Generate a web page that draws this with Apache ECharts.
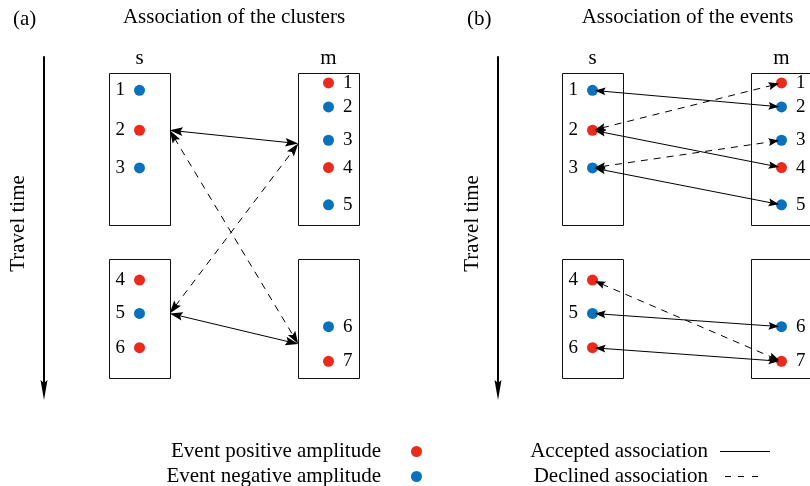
<!DOCTYPE html>
<html><head><meta charset="utf-8">
<script src="https://cdn.jsdelivr.net/npm/echarts@6/dist/echarts.min.js"></script>
<style>html,body{margin:0;padding:0;background:#fff}#c{width:810px;height:486px}</style>
</head><body><div id="c"></div>
<script>
// ---------- data ----------
const stationNames = ['s', 'm'];                       // station 0 = s, station 1 = m
const sEventTimes = [10, 22, 33.3, 67, 77, 87.3];       // travel time (0..100 scale)
const sEventPolarity = [-1, 1, -1, 1, -1, 1];           // +1 positive, -1 negative amplitude
const mEventTimes = [7.8, 15, 25, 33.2, 44.4, 81, 91.4];
const mEventPolarity = [1, -1, -1, 1, -1, -1, 1];
const clusterWindows = [[4.8, 50.5], [60.7, 96.5]];     // travel-time window of each cluster
const sClusterTimes = [22, 77];                         // representative time of each cluster
const mClusterTimes = [26, 86.2];
// [s cluster, m cluster] pairs
const clusterAccepted = [[0, 0], [1, 1]];
const clusterDeclined = [[0, 1], [1, 0]];
// [s event no., m event no.] pairs (1-based)
const eventAccepted = [[1, 2], [2, 4], [3, 5], [5, 6], [6, 7]];
const eventDeclined = [[2, 1], [3, 3], [4, 7]];
const panelTags = ['(a)', '(b)'];
const panelTitles = ['Association of the clusters', 'Association of the events'];
const legendEventNames = ['Event positive amplitude', 'Event negative amplitude'];
const legendLinkNames = ['Accepted association', 'Declined association'];
const axisName = 'Travel time';

// ---------- style ----------
const FONT = 'Liberation Serif';
const RED = '#ec2a1c', BLUE = '#0a72bd';
const BOX_HALF = 0.16;

const chart = echarts.init(document.getElementById('c'));

function renderBox(params, api) {
  const x = api.value(0);
  const p0 = api.coord([x - BOX_HALF, api.value(1)]);
  const p1 = api.coord([x + BOX_HALF, api.value(2)]);
  const x0 = Math.round(p0[0]) + 0.5, y0 = Math.round(p0[1]) + 0.5;
  const x1 = Math.round(p1[0]) + 0.5, y1 = Math.round(p1[1]) + 0.5;
  return { type: 'rect', shape: { x: x0, y: y0, width: x1 - x0, height: y1 - y0 },
    style: { fill: 'none', stroke: '#111', lineWidth: 1 } };
}
function renderStation(params, api) {
  const p = api.coord([api.value(0), 0]);
  return { type: 'text', x: p[0], y: p[1] + 1,
    style: { text: stationNames[params.dataIndex], font: '21px "' + FONT + '"', fill: '#000', align: 'center', verticalAlign: 'middle' } };
}
function makeArrowRender(headLen, headHalf, shorten, dashed) {
  return function (params, api) {
    const p1 = api.coord([api.value(0), api.value(1)]);
    const p2 = api.coord([api.value(2), api.value(3)]);
    const dx = p2[0] - p1[0], dy = p2[1] - p1[1];
    const L = Math.sqrt(dx * dx + dy * dy);
    const ux = dx / L, uy = dy / L, nx = -uy, ny = ux;
    const a = [p1[0] + ux * shorten, p1[1] + uy * shorten];
    const b = [p2[0] - ux * shorten, p2[1] - uy * shorten];
    function head(tip, dirx, diry) {
      const bx = tip[0] + dirx * headLen, by = tip[1] + diry * headLen;
      const mx = tip[0] + dirx * headLen * 0.82, my = tip[1] + diry * headLen * 0.82;
      return { type: 'polygon', shape: { points: [tip, [bx + nx * headHalf, by + ny * headHalf], [mx, my], [bx - nx * headHalf, by - ny * headHalf]] },
        style: { fill: '#000' } };
    }
    return { type: 'group', children: [
      { type: 'line', shape: { x1: a[0] + ux * headLen * 0.7, y1: a[1] + uy * headLen * 0.7, x2: b[0] - ux * headLen * 0.7, y2: b[1] - uy * headLen * 0.7 },
        style: { stroke: '#000', lineWidth: 1, lineDash: dashed ? [7, 6] : null } },
      head(a, ux, uy), head(b, -ux, -uy)
    ] };
  };
}

function eventData(station, times, pol, sign) {
  const out = [];
  times.forEach(function (t, i) {
    if (pol[i] === sign) out.push({ name: String(i + 1), value: [station, t], label: { position: station === 0 ? 'left' : 'right' } });
  });
  return out;
}

const series = [];
const grids = [], xAxes = [], yAxes = [];
// 189 px per station unit; panel (b) is cut at the right edge of the picture
const gridLefts = [45, 498], gridWidths = [378, 311.85], xMax = [1.5, 1.15];
for (let p = 0; p < 2; p++) {
  grids.push({ left: gridLefts[p], top: 57, width: gridWidths[p], height: 333 });
  xAxes.push({ gridIndex: p, type: 'value', min: -0.5, max: xMax[p], show: false });
  yAxes.push({ gridIndex: p, type: 'value', min: 0, max: 100, inverse: true, offset: p === 0 ? 1 : 0,
    axisLine: { show: true, onZero: false, symbol: ['path://M3.5,0L7,20L3.5,17L0,20Z', 'none'], symbolSize: [7, 20], lineStyle: { color: '#000', width: 2 } },
    axisTick: { show: false }, axisLabel: { show: false }, splitLine: { show: false },
    name: axisName, nameLocation: 'middle', nameRotate: 90, nameGap: 15,
    nameTextStyle: { fontFamily: FONT, fontSize: 21, color: '#000' } });

  const boxes = [];
  [0, 1].forEach(function (st) { clusterWindows.forEach(function (w) { boxes.push([st, w[0], w[1]]); }); });
  series.push({ type: 'custom', xAxisIndex: p, yAxisIndex: p, renderItem: renderBox, data: boxes, z: 1, silent: true });
  series.push({ type: 'custom', xAxisIndex: p, yAxisIndex: p, renderItem: renderStation, data: [[0], [1]], z: 1, silent: true });

  [1, -1].forEach(function (sign, k) {
    series.push({
      type: 'scatter', name: legendEventNames[k], xAxisIndex: p, yAxisIndex: p, clip: false, z: 2,
      symbol: 'circle', symbolSize: 11, itemStyle: { color: sign > 0 ? RED : BLUE, opacity: 1 },
      label: { show: true, formatter: '{b}', distance: 9, fontFamily: FONT, fontSize: 19, color: '#000' },
      emphasis: { disabled: true },
      data: eventData(0, sEventTimes, sEventPolarity, sign).concat(eventData(1, mEventTimes, mEventPolarity, sign))
    });
  });

  let acc, dec;
  if (p === 0) {
    const mk = function (pair) { return [0 + BOX_HALF, sClusterTimes[pair[0]], 1 - BOX_HALF, mClusterTimes[pair[1]]]; };
    acc = clusterAccepted.map(mk); dec = clusterDeclined.map(mk);
  } else {
    const mk = function (pair) { return [0, sEventTimes[pair[0] - 1], 1, mEventTimes[pair[1] - 1]]; };
    acc = eventAccepted.map(mk); dec = eventDeclined.map(mk);
  }
  const hl = p === 0 ? 13 : 10.5, hh = p === 0 ? 4.3 : 3.9, sh = p === 0 ? 0 : 2.5;
  series.push({ type: 'custom', name: legendLinkNames[0], xAxisIndex: p, yAxisIndex: p, z: 3, silent: true, itemStyle: { color: '#000' },
    renderItem: makeArrowRender(hl, hh, sh, false), data: acc });
  series.push({ type: 'custom', name: legendLinkNames[1], xAxisIndex: p, yAxisIndex: p, z: 3, silent: true, itemStyle: { color: '#000' },
    renderItem: makeArrowRender(hl, hh, sh, true), data: dec });
}

const titleX = [[13, 234], [467, 687.5]];
const graphic = [];
for (let p = 0; p < 2; p++) {
  graphic.push({ type: 'text', x: titleX[p][0], y: 19, style: { text: panelTags[p], font: '21px "' + FONT + '"', fill: '#000', align: 'left', verticalAlign: 'middle' } });
  graphic.push({ type: 'text', x: titleX[p][1], y: 17, style: { text: panelTitles[p], font: '21px "' + FONT + '"', fill: '#000', align: 'center', verticalAlign: 'middle' } });
}

const legendText = { fontFamily: FONT, fontSize: 21, color: '#000', lineHeight: 18 };
chart.setOption({
  animation: false,
  backgroundColor: '#fff',
  grid: grids, xAxis: xAxes, yAxis: yAxes,
  graphic: graphic,
  legend: [
    { data: [{ name: legendEventNames[0], icon: 'circle' }, { name: legendEventNames[1], icon: 'circle' }],
      orient: 'vertical', align: 'right', right: 388, top: 439, height: 80, padding: 0, itemGap: 0,
      itemWidth: 11, itemHeight: 11, selectedMode: false,
      textStyle: Object.assign({}, legendText, { padding: [0, 25, 7, 0] }) },
    { data: [{ name: legendLinkNames[0], icon: 'path://M0,0H50V1H0Z' },
             { name: legendLinkNames[1], icon: 'path://M0,0L0,1M5,0H11V1H5ZM18,0H24V1H18ZM32,0H38V1H32ZM50,0L50,1' }],
      orient: 'vertical', align: 'right', right: 40, top: 439, height: 80, padding: 0, itemGap: 0,
      itemWidth: 50, itemHeight: 11, selectedMode: false,
      textStyle: Object.assign({}, legendText, { padding: [0, 7, 7, 0] }) }
  ],
  series: series
});
</script></body></html>
